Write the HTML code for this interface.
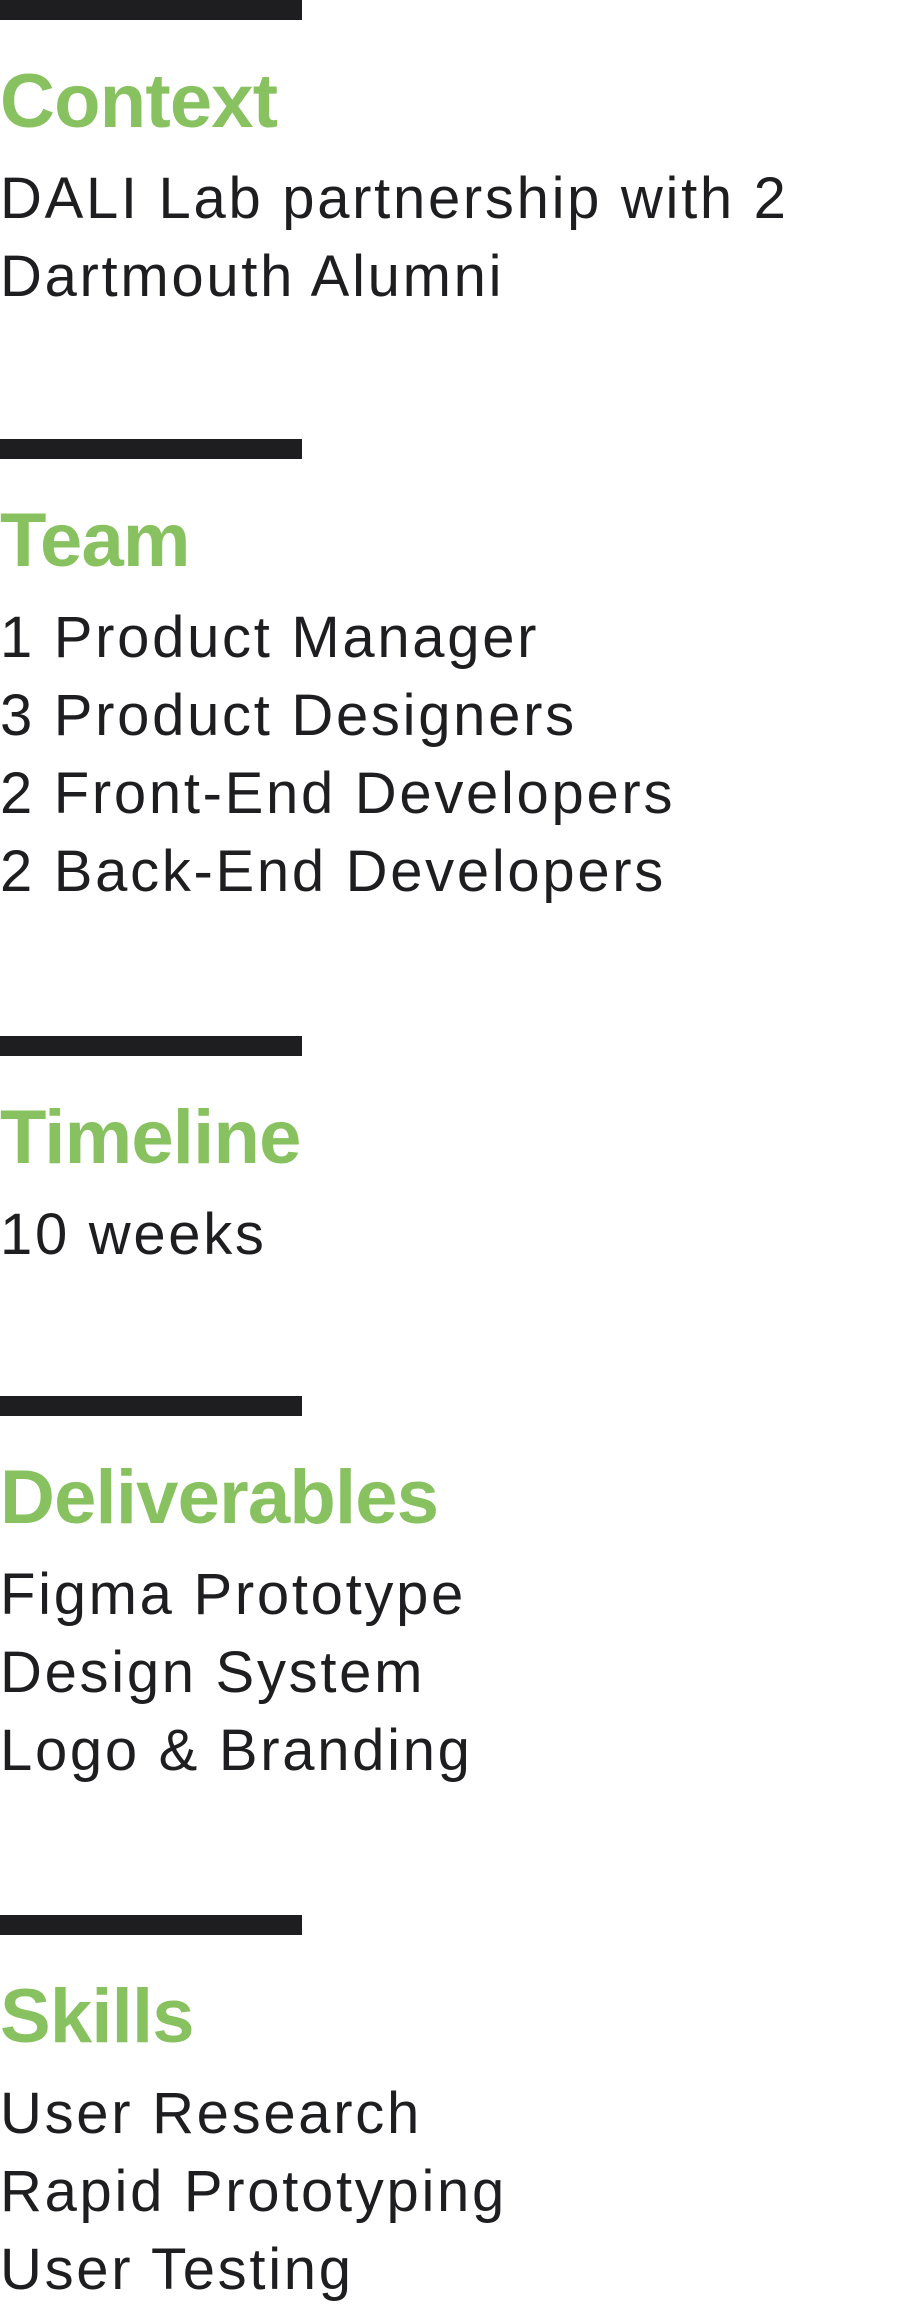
<!DOCTYPE html>
<html><head><meta charset="utf-8"><style>
html,body{margin:0;padding:0;background:#fff;width:921px;height:2306px;overflow:hidden;position:relative}
.bar{position:absolute;left:0;width:302px;height:20px;background:#1e1e20}
.h{position:absolute;left:0;font:bold 76px/76px "Liberation Sans",sans-serif;color:#88c15f;white-space:nowrap;letter-spacing:-0.8px}
.t{position:absolute;left:0;font:58px/58px "Liberation Sans",sans-serif;color:#1e1e20;white-space:nowrap;letter-spacing:2.7px}
</style></head><body>
<div id="root"></div>
<script>
const sectionTops=[0,439,1036,1396,1915];
const titles=["Context","Team","Timeline","Deliverables","Skills"];
const items=[["DALI Lab partnership with 2","Dartmouth Alumni"],["1 Product Manager","3 Product Designers","2 Front-End Developers","2 Back-End Developers"],["10 weeks"],["Figma Prototype","Design System","Logo & Branding"],["User Research","Rapid Prototyping","User Testing"]];
const root=document.getElementById('root');
titles.forEach((t,i)=>{
  const top=sectionTops[i];
  const slug=t.toLowerCase();
  const b=document.createElement('div');b.className='bar';b.style.top=top+'px';
  
  
  root.appendChild(b);
  const h=document.createElement('div');h.className='h';h.style.top=(top+128-64)+'px';h.textContent=t;
  
  
  root.appendChild(h);
  items[i].forEach((s,k)=>{
    const d=document.createElement('div');d.className='t';d.style.top=(top+219+78*k-49)+'px';d.textContent=s;
    
    
    root.appendChild(d);
  });
});
</script>
</body></html>
